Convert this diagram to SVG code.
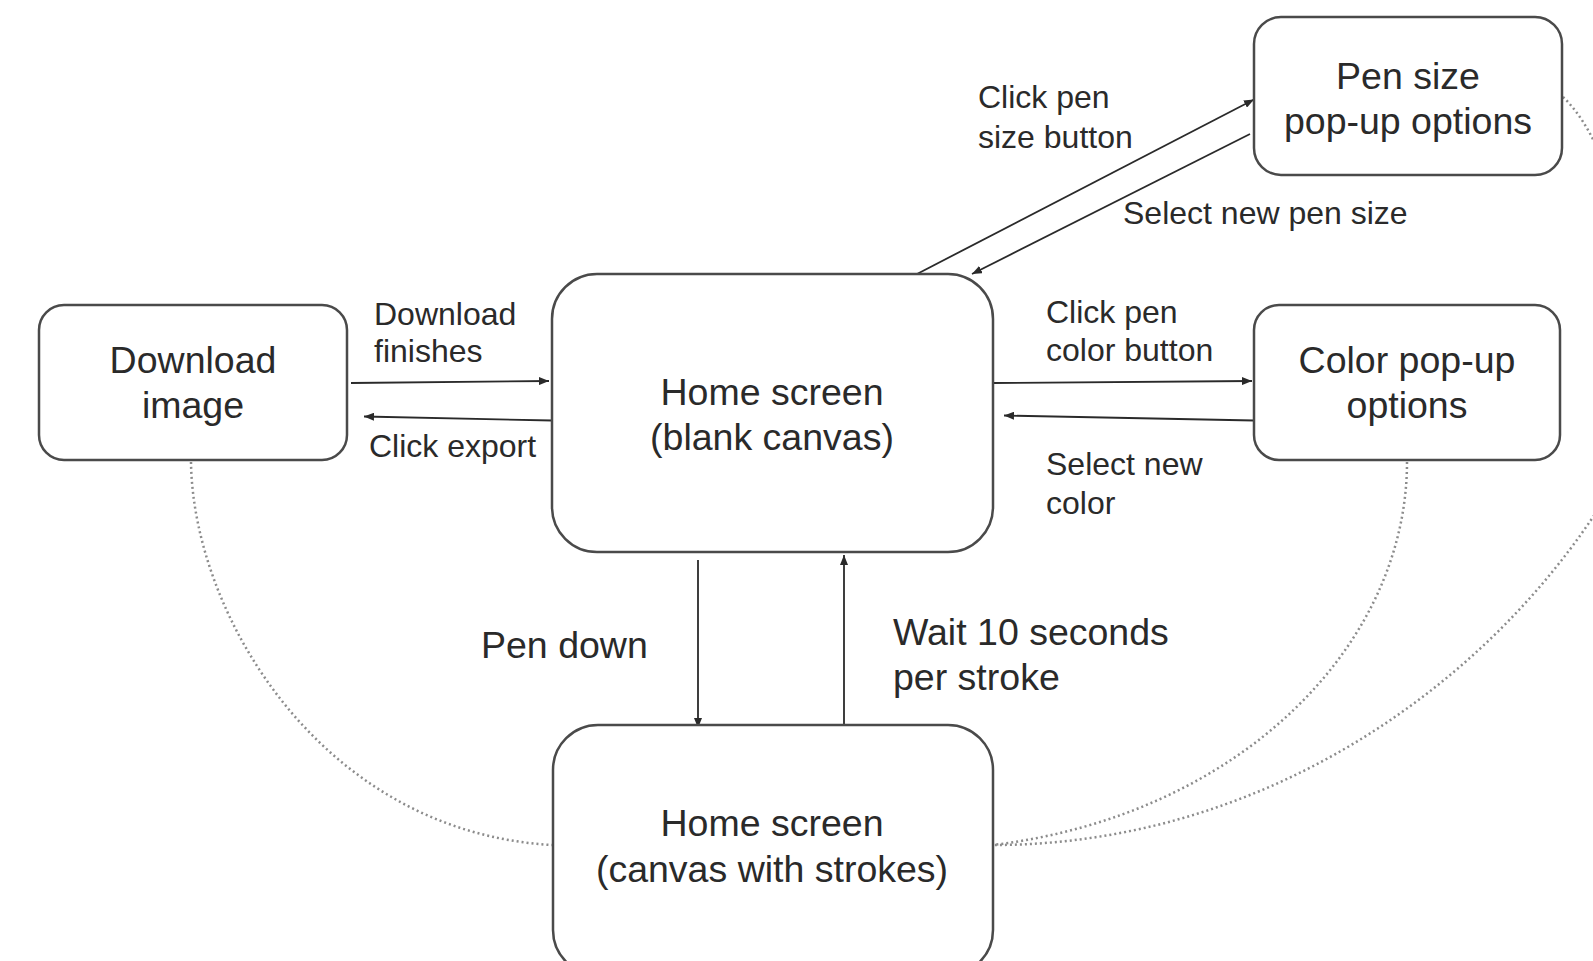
<svg xmlns="http://www.w3.org/2000/svg" width="1593" height="961" viewBox="0 0 1593 961">
<defs>
<style>
.node{fill:#fff;stroke:#4a4a4a;stroke-width:2.5}
.nt{font-family:"Liberation Sans",Arial,sans-serif;font-size:37.5px;fill:#2a2a2a;text-anchor:middle}
.lb{font-family:"Liberation Sans",Arial,sans-serif;font-size:32px;fill:#2a2a2a}
.lbb{font-family:"Liberation Sans",Arial,sans-serif;font-size:37.5px;fill:#2a2a2a}
.edge{fill:none;stroke:#2a2a2a;stroke-width:1.8}
.dot{fill:none;stroke:#8c8c8c;stroke-width:2.5;stroke-dasharray:2 3}
</style>
<marker id="ah" viewBox="0 0 10 8" refX="10" refY="4" markerWidth="10" markerHeight="8" markerUnits="userSpaceOnUse" orient="auto">
<path d="M0,0 L10,4 L0,8 z" fill="#2a2a2a"/>
</marker>
</defs>
<rect width="1593" height="961" fill="#fff"/>

<g id="connectors">
<path class="dot" d="M191,462 C193,615 322,832 552,845"/>
<path class="dot" d="M1407,462 C1407,645 1240,815 993,845"/>
<path class="dot" d="M1563,97 C1640,170 1660,420 1593,517 C1470,700 1250,845 993,845"/>
<path class="edge" marker-end="url(#ah)" d="M351,383 L549,381"/>
<path class="edge" marker-end="url(#ah)" d="M552,420.5 L364,416.5"/>
<path class="edge" marker-end="url(#ah)" d="M993,383 L1252,381"/>
<path class="edge" marker-end="url(#ah)" d="M1254,420.5 L1004,415.5"/>
<path class="edge" marker-end="url(#ah)" d="M917,274 L1254,99.5"/>
<path class="edge" marker-end="url(#ah)" d="M1250,134 L972,274"/>
<path class="edge" marker-end="url(#ah)" d="M698,560 L698,728"/>
<path class="edge" marker-end="url(#ah)" d="M844,724 L844,555"/>
<text class="lb" x="374" y="325">Download</text>
<text class="lb" x="374" y="362">finishes</text>
<text class="lb" x="369" y="457">Click export</text>
<text class="lb" x="978" y="108">Click pen</text>
<text class="lb" x="978" y="148">size button</text>
<text class="lb" x="1123" y="224">Select new pen size</text>
<text class="lb" x="1046" y="323">Click pen</text>
<text class="lb" x="1046" y="361">color button</text>
<text class="lb" x="1046" y="475">Select new</text>
<text class="lb" x="1046" y="514">color</text>
<text class="lbb" x="481" y="658">Pen down</text>
<text class="lbb" x="893" y="645">Wait 10 seconds</text>
<text class="lbb" x="893" y="690">per stroke</text>
</g>

<g id="download-image">
<rect class="node" x="39" y="305" width="308" height="155" rx="25"/>
<text class="nt" x="193" y="373">Download</text>
<text class="nt" x="193" y="418">image</text>
</g>

<g id="home-blank">
<rect class="node" x="552" y="274" width="441" height="278" rx="45"/>
<text class="nt" x="772" y="405">Home screen</text>
<text class="nt" x="772" y="450">(blank canvas)</text>
</g>

<g id="pen-size">
<rect class="node" x="1254" y="17" width="308" height="158" rx="27"/>
<text class="nt" x="1408" y="89">Pen size</text>
<text class="nt" x="1408" y="134">pop-up options</text>
</g>

<g id="color-popup">
<rect class="node" x="1254" y="305" width="306" height="155" rx="25"/>
<text class="nt" x="1407" y="373">Color pop-up</text>
<text class="nt" x="1407" y="418">options</text>
</g>

<g id="home-strokes">
<rect class="node" x="553" y="725" width="440" height="250" rx="45"/>
<text class="nt" x="772" y="836">Home screen</text>
<text class="nt" x="772" y="882">(canvas with strokes)</text>
</g>
</svg>
